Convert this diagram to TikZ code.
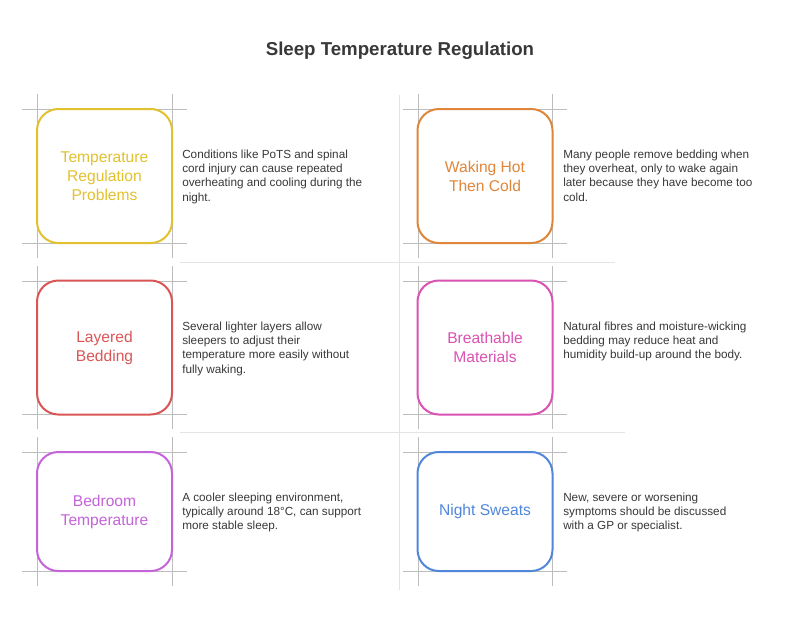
\documentclass[tikz,border=0pt]{standalone}
\usepackage{fontspec}
\setmainfont{Liberation Sans}
\definecolor{cyellow}{HTML}{E2C12E}
\definecolor{corange}{HTML}{E0863A}
\definecolor{cred}{HTML}{DA5656}
\definecolor{cmagenta}{HTML}{DA52B3}
\definecolor{cpurple}{HTML}{C464D9}
\definecolor{cblue}{HTML}{5087DB}
\definecolor{ctext}{HTML}{383838}
\definecolor{ccross}{HTML}{BDBDBD}
\definecolor{csep}{HTML}{E4E4E4}
\tikzset{
  card/.style={draw=#1, text=#1, line width=1.5pt, rounded corners=16pt, fill=white,
    minimum width=101.25pt, minimum height=100.5pt, align=center, inner sep=0pt,
    font=\fontsize{11.7}{14.3}\selectfont},
  desc/.style={anchor=north west, align=left, inner sep=0pt, text=ctext,
    font=\fontsize{8.8}{10.7}\selectfont},
  crossline/.style={draw=ccross, line width=0.6pt},
  sepline/.style={draw=csep, line width=0.6pt},
  titlestyle/.style={anchor=base, text=ctext, font=\bfseries\fontsize{14}{17}\selectfont}
}
\begin{document}
\begin{tikzpicture}[x=0.75pt,y=-0.75pt]
\useasboundingbox (0,0) rectangle (800,633);
\fill[white] (0,0) rectangle (800,633);

% faint separators
\draw[sepline] (399,95) -- (399,590);
\draw[sepline] (180,262) -- (615,262);
\draw[sepline] (180,432) -- (625,432);

% crosshair guide lines
\foreach \xa/\xb/\ya/\yb in {37/172/109/243, 418/552/109/243, 37/172/281/414, 418/552/281/414, 37/172/452/571, 418/552/452/571}{
  \draw[crossline] (\xa,\ya-15) -- (\xa,\yb+15);
  \draw[crossline] (\xb,\ya-15) -- (\xb,\yb+15);
  \draw[crossline] (\xa-15,\ya) -- (\xb+15,\ya);
  \draw[crossline] (\xa-15,\yb) -- (\xb+15,\yb);
}

\node[titlestyle] (title) at (400,55) {Sleep Temperature Regulation};

% cards
\node[card=cyellow] (b1) at (104.5,176) {Temperature\\Regulation\\Problems};
\node[card=corange] (b2) at (485,176) {Waking Hot\\Then Cold};
\node[card=cred] (b3) at (104.5,347.5) {Layered\\Bedding};
\node[card=cmagenta] (b4) at (485,347.5) {Breathable\\Materials};
\node[card=cpurple, minimum height=89.25pt] (b5) at (104.5,511.5) {Bedroom\\Temperature};
\node[card=cblue, minimum height=89.25pt] (b6) at (485,511.5) {Night Sweats};

% descriptions
\node[desc] (d1) at (182,148) {\strut Conditions like PoTS and spinal\\cord injury can cause repeated\\overheating and cooling during the\\night.};
\node[desc] (d2) at (563,148) {\strut Many people remove bedding when\\they overheat, only to wake again\\later because they have become too\\cold.};
\node[desc] (d3) at (182,320) {\strut Several lighter layers allow\\sleepers to adjust their\\temperature more easily without\\fully waking.};
\node[desc] (d4) at (563,320) {\strut Natural fibres and moisture-wicking\\bedding may reduce heat and\\humidity build-up around the body.};
\node[desc] (d5) at (182,491) {\strut A cooler sleeping environment,\\typically around 18°C, can support\\more stable sleep.};
\node[desc] (d6) at (563,491) {\strut New, severe or worsening\\symptoms should be discussed\\with a GP or specialist.};
\end{tikzpicture}
\end{document}
